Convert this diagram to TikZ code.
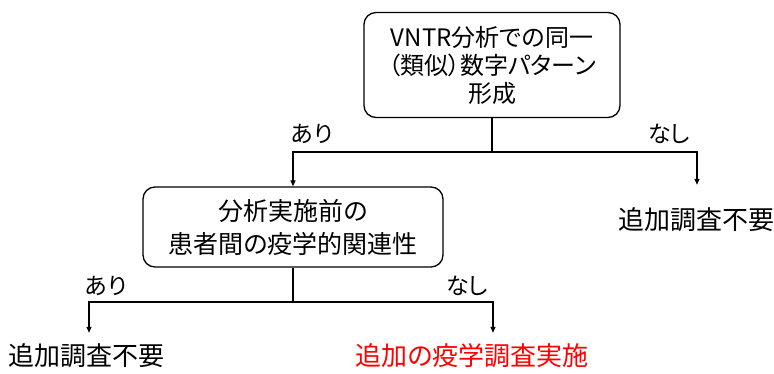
\documentclass[tikz,border=0pt]{standalone}
\usepackage{fontspec}
\setmainfont{Noto Sans CJK JP}[RawFeature=+palt]
\usetikzlibrary{arrows.meta,positioning,calc}

\begin{document}
\begin{tikzpicture}[x=1pt,y=-1pt,
  box/.style={draw,line width=1.3pt,rounded corners=12pt,align=center},
  res/.style={inner sep=0pt,text height=18pt,text depth=6pt,font=\fontsize{26}{30}\selectfont},
  lab/.style={font=\fontsize{23}{26}\selectfont},
  line/.style={line width=1.3pt},
  flow/.style={line width=1.3pt,-{Triangle[length=6pt,width=5pt]}}]
  \useasboundingbox (0,0) rectangle (774,374);
  \node[box,minimum width=256pt,minimum height=105pt,font=\fontsize{24}{28}\selectfont] (q1) at (492,65) {VNTR分析での同一\\（類似）数字パターン\\形成};
  \node[box,minimum width=300pt,minimum height=80pt,font=\fontsize{25}{33}\selectfont] (q2) at (293,227) {分析実施前の\\患者間の疫学的関連性};
  \node[res] (r1) at (696,224) {追加調査不要};
  \node[res] (r2) at (87,359) {追加調査不要};
  \node[res,text=red] (r3) at (472,359) {追加の疫学調査実施};
  \coordinate (j1) at (q1.south |- 0,152);
  \coordinate (j2) at (q2.south |- 0,302);
  \draw[line](q1.south)--(j1);
  \draw[flow](j1)-|(q2.north);
  \draw[flow,shorten >=27pt](j1)-|([xshift=1pt]r1.north);
  \draw[line](q2.south)--(j2);
  \draw[flow,shorten >=14pt](j2)-|([xshift=2pt]r2.north);
  \draw[flow,shorten >=14pt](j2)-|([xshift=21pt]r3.north);
  \node[lab] (y1) at (312,134) {あり};
  \node[lab] (n1) at (669,134) {なし};
  \node[lab] (y2) at (106,286) {あり};
  \node[lab] (n2) at (467,286) {なし};
\end{tikzpicture}
\end{document}
